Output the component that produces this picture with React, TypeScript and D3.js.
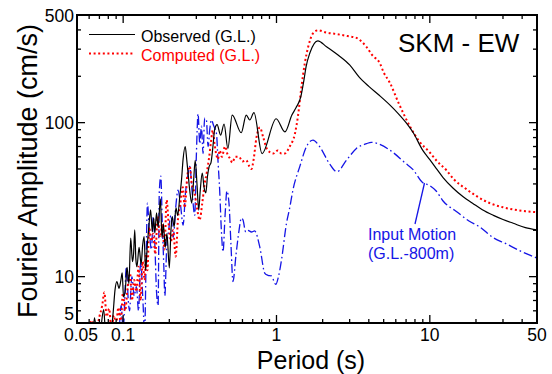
import React from "react";
import * as d3 from "d3";

// Period (s), Fourier amplitude (cm/s)
const observedT = [0.057,0.060,0.063,0.065,0.068,0.071,0.0746,0.077,0.080,0.083,0.086,0.0885,0.091,0.094,0.0965,0.0986,0.1005,0.103,0.106,0.109,0.112,0.115,0.117,0.119,0.121,0.123,0.127,0.131,0.134,0.137,0.140,0.144,0.147,0.151,0.155,0.158,0.161,0.165,0.169,0.175,0.179,0.183,0.188,0.193,0.200,0.205,0.209,0.215,0.221,0.227,0.234,0.240,0.246,0.254,0.260,0.265,0.272,0.280,0.288,0.295,0.303,0.311,0.318,0.328,0.337,0.346,0.355,0.364,0.374,0.384,0.395,0.41,0.432,0.455,0.482,0.514,0.589,0.635,0.669,0.713,0.805,0.995,1.135,1.26,1.34,1.44,1.51,1.56,1.65,1.86,2.12,2.52,3.0,3.44,4.0,4.7,5.5,6.2,7.0,7.8,9.0,10.0,11.0,12.2,14.2,16.5,19.0,22.0,26.0,30.0,35.0,42.0,50.0];
const observedA = [3.5,4.6,3.9,5.4,4.0,4.4,6.1,4.3,5.0,4.2,5.8,8.2,9.3,8.4,9.4,10.6,7.4,8.0,11.5,9.0,17.8,12.5,14.2,20.1,13.0,11.6,15.5,12.0,16.0,18.2,11.0,16.5,21.0,27.1,19.5,24.0,19.2,26.0,21.0,32.0,18.0,22.0,15.5,19.0,11.4,20.0,24.5,21.1,28.0,25.0,33.0,42.0,58.0,70.0,57.0,47.0,36.0,30.0,42.0,57.0,40.0,27.0,36.0,47.0,38.0,35.0,45.0,52.0,55.0,68.0,90.0,97.0,83.0,98.0,68.0,112.0,86.0,112.0,104.0,116.0,63.0,106.0,87.0,112.0,125.0,147.0,189.0,231.0,283.0,340.0,311.0,275.0,237.0,199.0,172.0,150.0,130.0,115.0,100.0,86.0,66.0,57.5,50.5,44.0,37.5,33.0,30.0,27.2,25.0,23.5,22.2,20.8,20.1];

const computedT = [0.058,0.0624,0.066,0.070,0.073,0.0754,0.078,0.081,0.084,0.087,0.090,0.093,0.0965,0.0996,0.103,0.107,0.111,0.114,0.118,0.122,0.126,0.130,0.134,0.138,0.141,0.144,0.148,0.152,0.157,0.162,0.168,0.174,0.180,0.186,0.192,0.198,0.205,0.212,0.220,0.228,0.236,0.245,0.252,0.262,0.272,0.280,0.292,0.303,0.315,0.328,0.340,0.352,0.364,0.374,0.384,0.395,0.405,0.415,0.426,0.44,0.462,0.48,0.50,0.514,0.54,0.57,0.60,0.635,0.665,0.687,0.71,0.74,0.78,0.82,0.87,0.95,1.02,1.08,1.13,1.22,1.32,1.38,1.455,1.53,1.61,1.73,1.87,2.1,2.46,2.9,3.32,3.6,3.86,4.2,4.72,5.0,5.48,6.3,7.4,8.5,10.0,11.0,12.85,14.3,17.3,20.0,24.6,30.0,35.0,42.0,50.0];
const computedA = [3.8,5.2,4.2,5.5,6.5,7.9,5.5,6.2,4.5,5.6,4.8,6.3,5.0,7.8,6.0,8.5,10.5,7.0,9.5,8.0,11.6,7.0,12.5,9.5,14.0,11.0,21.0,17.0,19.0,14.0,24.5,18.0,22.0,15.0,31.5,22.0,17.0,20.0,13.5,24.0,30.0,38.0,28.0,45.0,52.0,40.0,35.0,28.0,23.3,30.0,40.0,48.0,60.0,75.0,89.0,72.0,62.0,58.0,66.0,60.0,70.0,62.0,58.0,55.0,60.0,60.0,56.0,57.0,52.0,50.0,58.0,80.0,93.0,80.0,67.0,63.0,66.0,63.0,63.0,70.0,85.0,110.0,171.0,243.0,311.0,380.0,398.0,385.0,376.0,365.0,355.0,335.0,311.0,275.0,243.0,212.0,182.0,132.0,95.0,76.0,64.0,57.0,49.0,43.0,37.0,33.5,30.0,28.2,27.3,26.6,26.2];

const inputT = [0.085,0.0894,0.093,0.097,0.100,0.105,0.108,0.110,0.114,0.118,0.122,0.126,0.130,0.135,0.138,0.141,0.144,0.148,0.153,0.157,0.161,0.165,0.169,0.172,0.176,0.180,0.184,0.187,0.192,0.198,0.205,0.212,0.220,0.228,0.236,0.246,0.255,0.264,0.272,0.282,0.293,0.300,0.308,0.316,0.324,0.332,0.340,0.349,0.358,0.367,0.376,0.39,0.406,0.416,0.426,0.437,0.448,0.462,0.475,0.49,0.505,0.52,0.545,0.57,0.59,0.605,0.63,0.65,0.687,0.72,0.778,0.84,0.88,0.927,0.989,1.03,1.08,1.16,1.22,1.28,1.42,1.57,1.73,1.91,2.22,2.48,2.86,3.32,3.86,4.15,4.6,5.76,6.86,7.78,8.93,10.0,11.0,12.2,14.9,18.0,21.2,25.7,31.6,40.0,47.3,50.0];
const inputA = [3.5,5.0,4.0,6.5,4.5,11.6,7.0,6.0,10.0,7.5,8.6,6.0,12.4,6.5,4.2,12.0,30.0,20.0,15.0,24.5,16.0,8.0,6.5,35.0,45.0,22.0,12.0,7.5,15.0,20.0,25.0,18.0,28.0,36.5,30.0,21.6,35.0,45.0,52.0,35.0,25.0,60.0,114.0,73.0,95.0,63.0,107.0,104.0,70.0,90.0,104.0,95.0,85.0,55.0,36.5,20.0,14.5,25.0,36.0,30.0,16.0,9.3,14.0,20.0,24.0,23.3,19.5,20.0,19.5,19.8,15.6,10.5,10.2,10.1,8.9,10.0,13.0,22.0,28.0,36.5,52.0,70.0,77.0,70.0,54.0,48.0,57.0,68.0,73.0,74.5,73.0,64.0,55.0,49.5,41.0,39.0,36.0,31.0,26.5,23.0,21.0,18.0,16.3,14.5,13.5,13.2];

const xMajorTicks = [0.1, 1, 10];
const xMinorTicks = [0.06,0.07,0.08,0.09,0.2,0.3,0.4,0.5,0.6,0.7,0.8,0.9,2,3,4,5,6,7,8,9,20,30,40];
const xTickLabels = ["0.05", "0.1", "1", "10", "50"];
const xTickLabelValues = [0.05, 0.1, 1, 10, 50];
const yMajorTicks = [10, 100];
const yMinorTicks = [6,7,8,9,20,30,40,50,60,70,80,90,200,300,400];
const yTickLabels = ["5", "10", "100", "500"];
const yTickLabelValues = [5, 10, 100, 500];

const W = 552, H = 374;
const L = 77, R = 537, T = 15, B = 323;
const FONT = "'Liberation Sans', Arial, Helvetica, sans-serif";

export default function App() {
  const x = d3.scaleLog().domain([0.05, 50]).range([L, R]);
  const y = d3.scaleLog().domain([5, 500]).range([B, T]);
  const line = d3
    .line<[number, number]>()
    .x((d) => x(d[0]))
    .y((d) => y(d[1]))
    .curve(d3.curveMonotoneX);
  const zip = (a: number[], b: number[]) => a.map((v, i) => [v, b[i]] as [number, number]);

  const obs = line(zip(observedT, observedA)) || "";
  const comp = line(zip(computedT, computedA)) || "";
  const inp = line(zip(inputT, inputA)) || "";

  const major = 8, minor = 4;

  return (
    <svg width={W} height={H} style={{ position: "absolute", left: 0, top: 0, background: "#fff" }} fontFamily={FONT}>
      <defs>
        <clipPath id="plotclip">
          <rect x={L} y={T} width={R - L} height={B - T} />
        </clipPath>
      </defs>
      <g clipPath="url(#plotclip)" fill="none">
        <path d={inp} stroke="#1515e6" strokeWidth={1.3} strokeDasharray="9,3,1.6,3" />
        <path d={comp} stroke="#ff0000" strokeWidth={2} strokeDasharray="2,2.6" />
        <path d={obs} stroke="#000" strokeWidth={1.2} />
      </g>
      {/* ticks */}
      <g stroke="#000" strokeWidth={1.3}>
        {xMajorTicks.map((v) => (
          <g key={"xm" + v}>
            <line x1={x(v)} x2={x(v)} y1={B} y2={B - major} />
            <line x1={x(v)} x2={x(v)} y1={T} y2={T + major} />
          </g>
        ))}
        {xMinorTicks.map((v) => (
          <g key={"xn" + v}>
            <line x1={x(v)} x2={x(v)} y1={B} y2={B - minor} />
            <line x1={x(v)} x2={x(v)} y1={T} y2={T + minor} />
          </g>
        ))}
        {yMajorTicks.map((v) => (
          <g key={"ym" + v}>
            <line x1={L} x2={L + major} y1={y(v)} y2={y(v)} />
            <line x1={R} x2={R - major} y1={y(v)} y2={y(v)} />
          </g>
        ))}
        {yMinorTicks.map((v) => (
          <g key={"yn" + v}>
            <line x1={L} x2={L + minor} y1={y(v)} y2={y(v)} />
            <line x1={R} x2={R - minor} y1={y(v)} y2={y(v)} />
          </g>
        ))}
      </g>
      <rect x={L} y={T} width={R - L} height={B - T} fill="none" stroke="#000" strokeWidth={2} />
      {/* tick labels */}
      <g fontSize={17.5} fill="#000">
        {xTickLabels.map((t, i) => {
          const v = xTickLabelValues[i];
          let px = x(v);
          if (i === 0) px += 4;
          return (
            <text key={"xl" + t} x={px} y={341} textAnchor="middle">{t}</text>
          );
        })}
        {yTickLabels.map((t, i) => {
          const v = yTickLabelValues[i];
          let py = y(v) + 6.5;
          if (i === 0) py = B - 3.5;
          if (i === yTickLabels.length - 1) py = T + 7;
          return (
            <text key={"yl" + t} x={L - 3} y={py} textAnchor="end">{t}</text>
          );
        })}
      </g>
      {/* axis titles */}
      <text x={311} y={369} fontSize={25} textAnchor="middle">Period (s)</text>
      <text transform={`translate(37,${(T + B) / 2 + 2}) rotate(-90)`} fontSize={27} textAnchor="middle">Fourier Amplitude (cm/s)</text>
      {/* legend */}
      <line x1={89} x2={135} y1={34.5} y2={34.5} stroke="#000" strokeWidth={1.2} />
      <text x={141} y={41.5} fontSize={16} fill="#000">Observed (G.L.)</text>
      <line x1={89} x2={135} y1={53.5} y2={53.5} stroke="#ff0000" strokeWidth={2} strokeDasharray="2,2.6" />
      <text x={141} y={61} fontSize={16} fill="#ff0000">Computed (G.L.)</text>
      <text x={398} y={51.5} fontSize={26} fill="#000">SKM - EW</text>
      {/* input motion annotation */}
      <line x1={415} y1={224} x2={424.5} y2={183} stroke="#1515e6" strokeWidth={1.3} />
      <text x={368} y={240} fontSize={16} fill="#1515e6">Input Motion</text>
      <text x={368} y={259} fontSize={16} fill="#1515e6">(G.L.-800m)</text>
    </svg>
  );
}
